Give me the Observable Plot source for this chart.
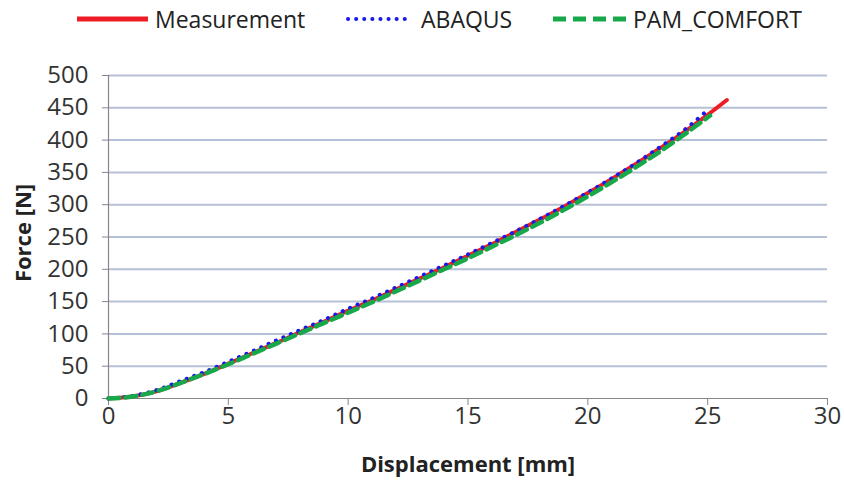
<!DOCTYPE html>
<html><head><meta charset="utf-8">
<script src="https://cdn.jsdelivr.net/npm/d3@7"></script>
<script src="https://cdn.jsdelivr.net/npm/@observablehq/plot@0.6"></script>
<style>
body{margin:0;background:#fff;font-family:"Open Sans",sans-serif;}
#legend{position:relative;width:844px;height:40px;}
#legend svg.sw{position:absolute;top:9px;height:20px;}
#legend span{position:absolute;top:2px;font-size:23px;line-height:34px;color:#222;white-space:nowrap;}
</style></head>
<body>
<div id="legend"></div>
<div id="chart"></div>
<script>
const seriesNames = ["Measurement", "ABAQUS", "PAM_COMFORT"];
const xTicks = [0, 5, 10, 15, 20, 25, 30];
const yTicks = [0, 50, 100, 150, 200, 250, 300, 350, 400, 450, 500];
const xTitle = "Displacement [mm]";
const yTitle = "Force [N]";

const measX = [0,1,2,3,4,5,6,7,8,9,10,11,12,13,14,15,16,17,18,19,20,21,22,23,24,25,25.8];
const measF = [0,3,11,24,38,54,70,86,103,119,136,152,169,186,203,221,239,258,277,297,318,340,363,387,412,439,462];
const abaqusX = [0,1,2,3,4,5,6,7,8,9,10,11,12,13,14,15,16,17,18,19,20,21,22,23,24,24.9];
const abaqusF = [0,4,13,27,41,57,73,90,106,122,139,155,172,189,206,223,241,259,278,298,319,341,364,389,415,443];
const pamX = [0,1,2,3,4,5,6,7,8,9,10,11,12,13,14,15,16,17,18,19,20,21,22,23,24,25.1];
const pamF = [0,3,11,24,38,53,69,85,101,117,133,149,166,183,200,217,235,253,272,292,313,335,358,382,408,438];

const colors = ["#ee1c25", "#1a1ae6", "#17a84a"];

const toRows = (xs, ys) => xs.map((x, i) => ({x, y: ys[i]}));
const meas = toRows(measX, measF);
const abaqus = toRows(abaqusX, abaqusF);
const pam = toRows(pamX, pamF);

// legend
const leg = document.getElementById("legend");
const legItems = [
  {name: seriesNames[0], sx: 77, sw: 71, tx: 155, color: colors[0], dash: null, w: 5},
  {name: seriesNames[1], sx: 345, sw: 64, tx: 421, color: colors[1], dash: "0.1 8", w: 4},
  {name: seriesNames[2], sx: 553, sw: 78, tx: 633, color: colors[2], dash: "13 7", w: 5}
];
for (const it of legItems) {
  const s = document.createElementNS("http://www.w3.org/2000/svg", "svg");
  s.setAttribute("class", "sw");
  s.setAttribute("width", it.sw);
  s.style.left = it.sx + "px";
  const l = document.createElementNS("http://www.w3.org/2000/svg", "line");
  l.setAttribute("x1", it.dash === "0.1 8" ? 3 : 0); l.setAttribute("x2", it.sw);
  l.setAttribute("y1", 10); l.setAttribute("y2", 10);
  l.setAttribute("stroke", it.color); l.setAttribute("stroke-width", it.w);
  if (it.dash) l.setAttribute("stroke-dasharray", it.dash);
  if (it.dash === "0.1 8") l.setAttribute("stroke-linecap", "round");
  s.appendChild(l);
  leg.appendChild(s);
  const t = document.createElement("span");
  t.textContent = it.name;
  t.style.left = it.tx + "px";
  leg.appendChild(t);
}

const chart = Plot.plot({
  width: 844,
  height: 447,
  marginTop: 35,
  marginBottom: 89,
  marginLeft: 108,
  marginRight: 17,
  style: {fontFamily: "Open Sans", color: "#333", background: "#fff"},
  x: {domain: [0, 30]},
  y: {domain: [0, 500]},
  marks: [
    Plot.ruleY(yTicks.filter(d => d > 0), {stroke: "#b6c0d6", strokeWidth: 2}),
    Plot.ruleX([0], {stroke: "#868686", strokeWidth: 1.2}),
    Plot.ruleY([0], {stroke: "#868686", strokeWidth: 1.2}),
    Plot.axisY({ticks: yTicks, tickSize: 6, tickPadding: 14, stroke: "#868686", fontSize: 24, label: null}),
    Plot.axisX({ticks: xTicks, tickSize: 7, tickPadding: 1, stroke: "#868686", fontSize: 24, label: null}),
    Plot.line(meas, {x: "x", y: "y", stroke: colors[0], strokeWidth: 4, curve: "monotone-x"}),
    Plot.line(abaqus, {x: "x", y: "y", stroke: colors[1], strokeWidth: 4, strokeDasharray: "0.1 8", strokeLinecap: "round", curve: "monotone-x"}),
    Plot.line(pam, {x: "x", y: "y", stroke: colors[2], strokeWidth: 4.5, strokeDasharray: "11 6", curve: "monotone-x"}),
    Plot.text([yTitle], {frameAnchor: "left", textAnchor: "middle", rotate: -90, dx: -85, dy: -4, fontSize: 22, fontWeight: "bold", fill: "#222"}),
    Plot.text([xTitle], {frameAnchor: "bottom", dy: 73, fontSize: 22, fontWeight: "bold", fill: "#222"})
  ]
});
document.getElementById("chart").appendChild(chart);
</script>
</body></html>
